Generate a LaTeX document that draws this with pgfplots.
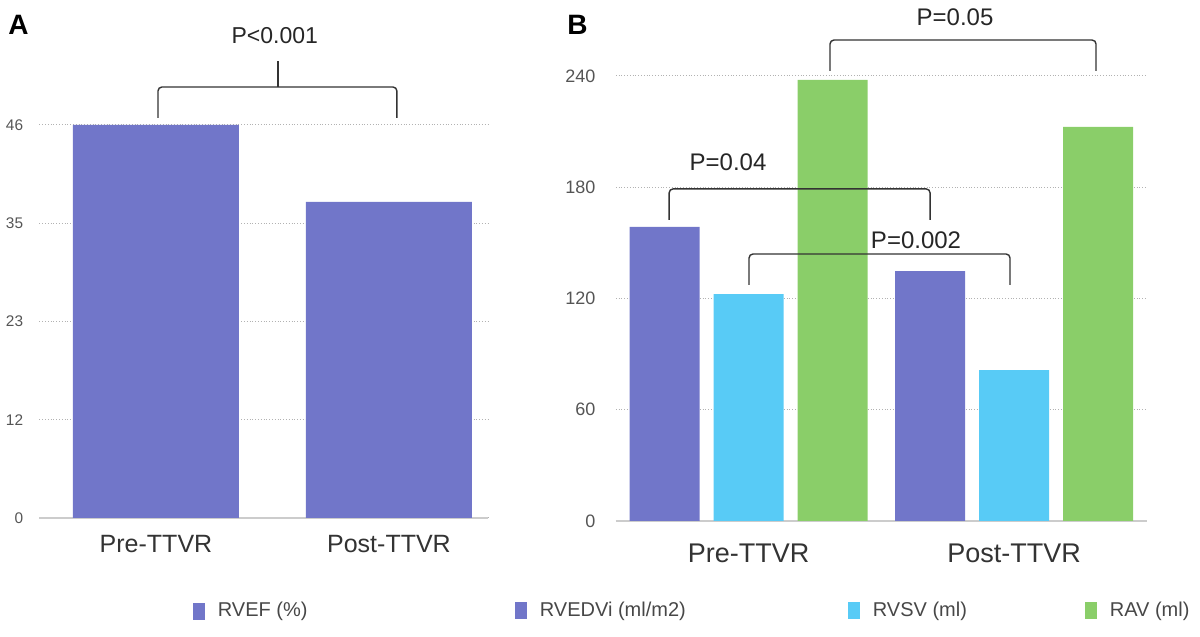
\documentclass[border=0pt]{standalone}
\usepackage{fontspec}
\setmainfont{Liberation Sans}
\usepackage{pgfplots}
\pgfplotsset{compat=1.18}

\definecolor{cblue}{HTML}{7176C9}
\definecolor{ccyan}{HTML}{58CBF6}
\definecolor{cgreen}{HTML}{8ACE69}
\definecolor{tickgray}{HTML}{555555}
\definecolor{txt}{HTML}{333333}

\pgfplotsset{
  panel/.style={
    scale only axis,
    clip=false,
    axis x line*=bottom, axis y line*=left,
    y axis line style={draw=none},
    x axis line style={draw=black!20, line width=0.8pt},
    major tick length=0pt,
    ymajorgrids,
    major grid style={densely dotted, black!30, line width=0.5pt},
    ymin=0,
    xtick={0,1}, xticklabels={Pre-TTVR,Post-TTVR},
    /pgf/number format/assume math mode=true,
    yticklabel style={anchor=east, inner sep=0pt, text=tickgray},
    xticklabel style={anchor=base, inner sep=0pt, text=txt},
    legend cell align=left,
    legend style={draw=none, fill=none, inner sep=0pt, outer sep=0pt,
      font=\fontsize{10}{12}\selectfont, text=txt!90,
      /tikz/every odd column/.append style={column sep=4.5pt}},
  },
  sqlegend/.style={
    legend image code/.code={\fill[##1] (0pt,-4.2pt) rectangle (6pt,4.2pt);},
  },
}
\tikzset{
  pbrack/.style={draw=txt, line width=0.7pt, rounded corners=2pt},
  plabel/.style={anchor=base, font=\fontsize{12}{14}\selectfont, text=black!85, inner sep=0pt},
}

\begin{document}
\begin{tikzpicture}
\path[use as bounding box] (0,0) rectangle (600pt,318.5pt);

% panel A
\begin{axis}[panel,
    at={(19.75pt,59.5pt)}, anchor=south west,
    width=224.25pt, height=196.5pt,
    xmin=-0.5, xmax=1.425, ymax=46,
    ytick={0,11.5,23,34.5,46}, yticklabels={0,12,23,35,46},
    yticklabel style={xshift=-8pt, font=\fontsize{7.7}{9}\selectfont},
    xticklabel style={yshift=-17.5pt, font=\fontsize{12.5}{14}\selectfont},
    ybar, bar width=83pt, sqlegend,
    legend style={at={(axis description cs:0.342,-0.237)}, anchor=west}]
\addplot[fill=cblue, draw=none] coordinates {(0,46) (1,37)};
\addlegendentry{RVEF (\%)}
\draw[pbrack] (axis cs:0.0086,46.82) -- (axis cs:0.0086,50.45) -- (axis cs:1.034,50.45) -- (axis cs:1.034,46.82);
\draw[pbrack] (axis cs:0.524,50.45) -- (axis cs:0.524,53.5);
\node[plabel, font=\fontsize{11.5}{13}\selectfont] at (axis cs:0.51,55.5) {P<0.001};
\end{axis}

% panel B
\begin{axis}[panel,
    at={(307.875pt,58pt)}, anchor=south west,
    width=265.5pt, height=222.5pt,
    xmin=-0.5, xmax=1.5, ymax=240,
    ytick={0,60,...,240},
    yticklabel style={xshift=-10pt, font=\fontsize{9}{11}\selectfont},
    xticklabel style={yshift=-21pt, font=\fontsize{13.5}{15}\selectfont},
    ybar=7pt, bar width=35pt, sqlegend,
    legend columns=3,
    legend style={at={(axis description cs:-0.19,-0.202)}, anchor=west}]
\addplot[fill=cblue, draw=none] coordinates {(0,158.6) (1,134.8)};
\addlegendentry{\makebox[152pt][l]{RVEDVi (ml/m2)}}
\addplot[fill=ccyan, draw=none] coordinates {(0,122.4) (1,81.4)};
\addlegendentry{\makebox[104pt][l]{RVSV (ml)}}
\addplot[fill=cgreen, draw=none] coordinates {(0,237.9) (1,212.5)};
\addlegendentry{RAV (ml)}
\draw[pbrack] (axis cs:0.307,242.7) -- (axis cs:0.307,259.4) -- (axis cs:1.309,259.4) -- (axis cs:1.309,242.7);
\node[plabel] at (axis cs:0.778,267.0) {P=0.05};
\draw[pbrack] (axis cs:-0.299,162.4) -- (axis cs:-0.299,179.1) -- (axis cs:0.684,179.1) -- (axis cs:0.684,162.4);
\node[plabel] at (axis cs:-0.077,188.8) {P=0.04};
\draw[pbrack] (axis cs:0.002,127.3) -- (axis cs:0.002,144.0) -- (axis cs:0.985,144.0) -- (axis cs:0.985,127.3);
\node[plabel] at (axis cs:0.631,147.2) {P=0.002};
\end{axis}

\node[anchor=base west, inner sep=0pt, font=\fontsize{14}{16}\selectfont\bfseries] at (4pt,301pt) {A};
\node[anchor=base west, inner sep=0pt, font=\fontsize{14}{16}\selectfont\bfseries] at (283.5pt,301pt) {B};
\end{tikzpicture}
\end{document}
